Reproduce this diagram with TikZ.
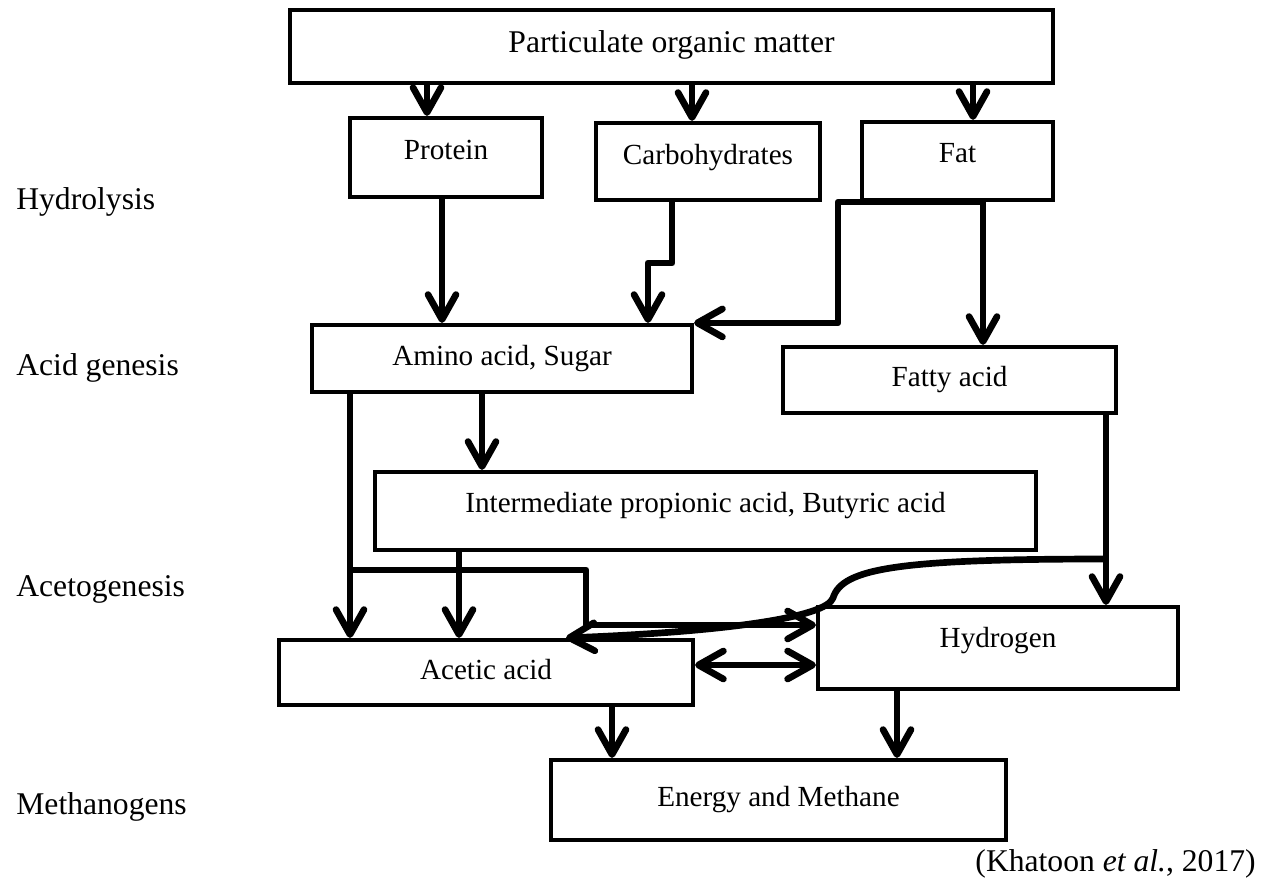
\documentclass[tikz,border=0pt]{standalone}
\usepackage{fontspec}
\setmainfont{Liberation Serif}
\usetikzlibrary{arrows.meta}

\tikzset{
  stage/.style={draw, line width=2.4pt, inner sep=0pt, text height=11.3pt, text depth=3.7pt,
    font=\fontsize{16.6}{20}\selectfont},
  flow/.style={line width=3.8pt, line join=round, >={Straight Barb[length=0.5cm,width=0.56cm,round]}, ->},
  phase/.style={anchor=west, inner sep=0pt, font=\fontsize{18}{22}\selectfont},
}

\begin{document}
\begin{tikzpicture}[x=0.02cm, y=-0.02cm]
    \useasboundingbox (0,0) rectangle (1263,879);

    % boxes
    \node[stage, minimum width=15.26cm, minimum height=1.46cm, font=\fontsize{18}{22}\selectfont,
      text height=12.2pt, text depth=5.7pt] (pom) at (671.5,46.5) {Particulate organic matter};

    \node[stage, minimum width=3.84cm, minimum height=1.58cm, text depth=9.4pt] (protein) at (446,157.5) {Protein};
    \node[stage, minimum width=4.48cm, minimum height=1.54cm, text depth=7.7pt] (carb) at (708,161.5) {Carbohydrates};
    \node[stage, minimum width=3.82cm, minimum height=1.56cm, text depth=9.4pt] (fat) at (957.5,161) {Fat};

    \node[stage, minimum width=7.6cm, minimum height=1.34cm] (amino) at (502,358.5) {Amino acid, Sugar};
    \node[stage, minimum width=6.66cm, minimum height=1.32cm] (fatty) at (949.5,380) {Fatty acid};

    \node[stage, minimum width=13.22cm, minimum height=1.56cm, text depth=9.4pt] (inter) at (705.5,511) {Intermediate propionic acid, Butyric acid};

    \node[stage, minimum width=8.28cm, minimum height=1.3cm] (acetic) at (486,672.5) {Acetic acid};
    \node[stage, minimum width=7.2cm, minimum height=1.64cm, text depth=11.6pt] (hydrogen) at (998,648) {Hydrogen};

    \node[stage, minimum width=9.1cm, minimum height=1.6cm] (energy) at (778.5,800) {Energy and Methane};

    % stages on the left
    \node[phase] (hydrolysis) at (16,202) {Hydrolysis};
    \node[phase] (acidgen) at (16,368) {Acid genesis};
    \node[phase] (acetogen) at (16,589) {Acetogenesis};
    \node[phase] (methanogen) at (16,807) {Methanogens};

    \node[anchor=base east, inner sep=0pt, font=\fontsize{18}{22}\selectfont] (source) at (1256,871) {(Khatoon \textit{et al.}, 2017)};

    % hydrolysis
    \draw[flow] (427,0 |- pom.south) -- (427,0 |- protein.north);
    \draw[flow] (692,0 |- pom.south) -- (692,0 |- carb.north);
    \draw[flow] (973,0 |- pom.south) -- (973,0 |- fat.north);

    \draw[flow] (442,0 |- protein.south) -- (442,0 |- amino.north);
    \draw[flow] (672,0 |- carb.south) -- (672,263) -- (648,263) -- (648,0 |- amino.north);
    \draw[flow] (983,0 |- fat.south) -- (838,0 |- fat.south) |- (amino.north east);
    \draw[flow] (983,0 |- fat.south) -- (983,0 |- fatty.north);

    % acid genesis
    \coordinate (split) at (350,570);
    \coordinate (fork) at (1106,559);
    \draw[flow] (482,0 |- amino.south) -- (482,0 |- inter.north);
    \draw[flow] (350,0 |- amino.south) -- (350,0 |- acetic.north);
    \draw[flow] (split) -- (586,570) -- (586,625) -- (hydrogen.west |- 0,625);
    \draw[flow] (459,0 |- inter.south) -- (459,0 |- acetic.north);

    % acetogenesis
    \draw[flow] (1106,0 |- fatty.south) -- (1106,0 |- hydrogen.north);
    \draw[flow] (fork) .. controls (900,559) and (842,568) .. (833,598)
      .. controls (826,618) and (720,632) .. (566,0 |- acetic.north);
    \draw[flow, <->] (acetic.east |- 0,665) -- (hydrogen.west |- 0,665);

    % methanogens
    \draw[flow] (612,0 |- acetic.south) -- (612,0 |- energy.north);
    \draw[flow] (897,0 |- hydrogen.south) -- (897,0 |- energy.north);
\end{tikzpicture}
\end{document}
